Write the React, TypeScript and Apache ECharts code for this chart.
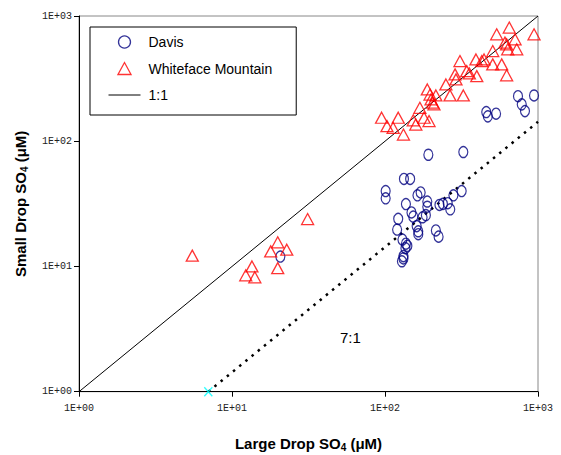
import React, { useEffect, useRef } from "react";
import * as echarts from "echarts";

// Davis (large drop SO4, small drop SO4) in µM
const davisLarge = [20.7, 192, 325, 133, 146, 101, 101, 137, 163, 171, 189, 189, 227, 239, 257, 267, 280, 317, 149, 153, 176, 185, 122, 120, 161, 165, 165, 215, 224, 130, 137, 140, 136, 132, 129, 132, 740, 942, 783, 822, 459, 470, 532];
const davisSmall = [12.0, 78, 82, 50, 50, 40, 35, 31.5, 37, 39, 33, 30, 31, 31.6, 32, 28.6, 37, 40, 27, 25, 24.7, 25.7, 24, 19.7, 21, 19.1, 18.1, 19.4, 17.3, 16.4, 15.2, 14.6, 14.0, 12.1, 11.0, 11.6, 229, 232, 197, 174, 171, 158, 166];

// Whiteface Mountain
const wfLarge = [5.5, 12.3, 13.5, 14.1, 17.9, 19.9, 22.8, 19.9, 31.2, 95, 103, 113, 122, 132, 153, 159, 169, 180, 194, 189, 197, 215, 205, 209, 200, 250, 266, 287, 291, 325, 309, 342, 356, 398, 393, 429, 444, 506, 506, 579, 624, 537, 649, 608, 624, 634, 708, 726, 942];
const wfSmall = [12.2, 8.5, 10.0, 8.2, 13.2, 15.6, 13.6, 9.7, 23.9, 154, 132, 128, 154, 113, 147, 136, 185, 154, 145, 259, 236, 232, 203, 197, 216, 284, 232, 342, 312, 232, 437, 363, 348, 331, 450, 437, 450, 525, 411, 411, 336, 714, 808, 613, 594, 542, 651, 542, 714];

// Reference lines
const oneToOne = [[1, 1], [1000, 1000]];
const sevenToOne = [[7, 1], [1000, 1000 / 7]];
const originMark = [[7, 1]];

const axisMin = 1;
const axisMax = 1000;

const NAVY = "#000080";
const RED = "#FF0000";

export default function App() {
  const ref = useRef<HTMLDivElement>(null);
  useEffect(() => {
    if (!ref.current) return;
    const chart = echarts.init(ref.current, null, { renderer: "svg" });
    const pair = (xs: number[], ys: number[]) => xs.map((x, i) => [x, ys[i]]);
    const labelFmt = (v: number) =>
      "1E+" + String(Math.round(Math.log10(v))).padStart(2, "0");
    const axisCommon = {
      type: "log" as const,
      logBase: 10,
      min: axisMin,
      max: axisMax,
      splitLine: { show: false },
      axisLine: { show: true, lineStyle: { color: "#000", width: 1 } },
      axisTick: { show: true, inside: false, length: 5, lineStyle: { color: "#000" } },
      axisLabel: {
        formatter: labelFmt,
        fontFamily: "Liberation Mono, Courier New, monospace",
        fontSize: 10,
        color: "#222",
      },
      nameLocation: "middle" as const,
      nameTextStyle: {
        rich: {
          a: { fontFamily: "Liberation Sans, Arial", fontWeight: "bold", fontSize: 15, color: "#000" },
          s: { fontFamily: "Liberation Sans, Arial", fontWeight: "bold", fontSize: 10, color: "#000", padding: [8, 0, 0, 0] },
        },
      },
    };
    chart.setOption({
      animation: false,
      backgroundColor: "#fff",
      grid: {
        left: 79,
        top: 16,
        width: 459,
        height: 375.7,
        outerBoundsMode: "none",
        containLabel: false,
        show: true,
        borderColor: "#888",
        borderWidth: 1,
        backgroundColor: "transparent",
      },
      xAxis: {
        ...axisCommon,
        axisLabel: { ...axisCommon.axisLabel, margin: 12 },
        name: "{a|Large Drop SO}{s|4}{a| (μM)}",
        nameGap: 43,
      },
      yAxis: {
        ...axisCommon,
        axisLabel: { ...axisCommon.axisLabel, margin: 7 },
        name: "{a|Small Drop SO}{s|4}{a| (μM)}",
        nameGap: 50,
      },
      legend: {
        orient: "vertical",
        left: 90,
        top: 27,
        padding: [8, 24, 13, 18],
        itemGap: 12.5,
        itemWidth: 32,
        itemHeight: 12,
        symbolKeepAspect: true,
        borderColor: "#000",
        borderWidth: 1,
        backgroundColor: "#fff",
        textStyle: { fontSize: 14, fontFamily: "Liberation Sans, Arial", color: "#000", padding: [0, 0, 0, 3] },
        data: [
          { name: "Davis", icon: "circle", itemStyle: { color: "transparent", borderColor: NAVY, borderWidth: 1.3 } },
          {
            name: "Whiteface Mountain",
            icon: "path://M0,11L6,0L12,11Z",
            itemStyle: { color: "transparent", borderColor: RED, borderWidth: 1.3 },
          },
          {
            name: "1:1",
            icon: "path://M0,0M0,12M0,6L32,6",
            itemStyle: { color: "transparent", borderColor: "#000", borderWidth: 1 },
          },
        ],
      },
      graphic: [
        {
          type: "text",
          left: 340,
          top: 330,
          style: { text: "7:1", fontSize: 15, fontFamily: "Liberation Sans, Arial", fill: "#000" },
        },
      ],
      series: [
        {
          name: "1:1",
          type: "line",
          data: oneToOne,
          symbol: "none",
          lineStyle: { color: "#000", width: 1 },
          itemStyle: { color: "#000" },
          z: 1,
        },
        {
          name: "7:1",
          type: "line",
          data: sevenToOne,
          symbol: "none",
          lineStyle: { color: "#000", width: 2.5, type: [2.5, 5.5] },
          z: 1,
        },
        {
          name: "Davis",
          type: "scatter",
          data: pair(davisLarge, davisSmall),
          symbol: "circle",
          symbolSize: [9, 11],
          itemStyle: { color: "transparent", borderColor: NAVY, borderWidth: 1.3 },
          z: 3,
        },
        {
          name: "Whiteface Mountain",
          type: "scatter",
          data: pair(wfLarge, wfSmall),
          symbol: "triangle",
          symbolSize: [12, 11],
          itemStyle: { color: "transparent", borderColor: RED, borderWidth: 1.3 },
          z: 3,
        },
        {
          name: "origin",
          type: "scatter",
          data: originMark,
          symbol: "path://M0,0L10,10M10,0L0,10",
          symbolSize: [8, 9],
          itemStyle: { color: "none", borderColor: "#00FFFF", borderWidth: 1.5 },
          z: 4,
        },
      ],
    });
    return () => chart.dispose();
  }, []);
  return (
    <div
      ref={ref}
      style={{ position: "absolute", left: 0, top: 0, width: 561, height: 455 }}
    />
  );
}
